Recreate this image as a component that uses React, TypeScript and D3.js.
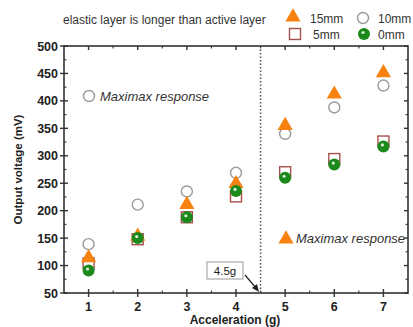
import { useEffect, useRef } from 'react';
import * as d3 from 'd3';

const ACCEL = [1, 2, 3, 4, 5, 6, 7];
const MM15 = [116, 155, 213, 251, 357, 414, 453];
const MM10 = [139, 211, 235, 269, 340, 388, 428];
const MM5 = [104, 148, 188, 226, 270, 294, 326];
const MM0 = [91, 150, 188, 236, 260, 284, 317];
const Y_TICKS = [50, 100, 150, 200, 250, 300, 350, 400, 450, 500];

const W = 413;
const H = 327;
const M = { left: 64, right: 5, top: 46, bottom: 34 };
const ORANGE = '#f7820f';
const GREY = '#9a9a9a';
const BROWN = '#a5524f';
const GREEN = '#1b8a1b';
const FONT = 'Arial, "Liberation Sans", sans-serif';

export default function App() {
  const svgRef = useRef<SVGSVGElement>(null);

  useEffect(() => {
    if (!svgRef.current) return;
    const svg = d3.select(svgRef.current);
    svg.selectAll('*').remove();

    const x = d3.scaleLinear().domain([0.5, 7.5]).range([M.left, W - M.right]);
    const y = d3.scaleLinear().domain([50, 500]).range([H - M.bottom, M.top]);
    const x0 = M.left, x1 = W - M.right, y0 = H - M.bottom, y1 = M.top;

    // ── Frame ─────────────────────────────────────────
    svg.append('rect')
      .attr('x', x0).attr('y', y1).attr('width', x1 - x0).attr('height', y0 - y1)
      .attr('fill', 'none').attr('stroke', '#333').attr('stroke-width', 1.6);

    const minorY = d3.range(75, 500, 50);
    const minorX = d3.range(1.5, 7.5, 1);
    const tk = (x1_: number, y1_: number, x2_: number, y2_: number, w = 1.4) =>
      svg.append('line').attr('x1', x1_).attr('y1', y1_).attr('x2', x2_).attr('y2', y2_)
        .attr('stroke', '#333').attr('stroke-width', w);

    Y_TICKS.forEach(v => {
      tk(x0 - 4, y(v), x0 + 4, y(v));
      tk(x1 - 4, y(v), x1, y(v));
    });
    minorY.forEach(v => {
      tk(x0, y(v), x0 + 2.5, y(v), 1.1);
      tk(x1 - 2.5, y(v), x1, y(v), 1.1);
    });
    ACCEL.forEach(v => {
      tk(x(v), y0 - 4, x(v), y0 + 4);
      tk(x(v), y1, x(v), y1 + 4);
    });
    minorX.forEach(v => {
      tk(x(v), y0 - 2.5, x(v), y0, 1.1);
      tk(x(v), y1, x(v), y1 + 2.5, 1.1);
    });

    // tick labels
    svg.append('g').selectAll('text').data(Y_TICKS).join('text')
      .attr('x', x0 - 6).attr('y', d => y(d) + 4.5)
      .attr('text-anchor', 'end').attr('font-size', 12.5).attr('font-weight', 'bold')
      .attr('font-family', FONT).attr('fill', '#222').text(d => d);
    svg.append('g').selectAll('text').data(ACCEL).join('text')
      .attr('x', d => x(d)).attr('y', y0 + 18)
      .attr('text-anchor', 'middle').attr('font-size', 12.5).attr('font-weight', 'bold')
      .attr('font-family', FONT).attr('fill', '#222').text(d => d);

    svg.append('text')
      .attr('x', (x0 + x1) / 2 - 1).attr('y', H - 3)
      .attr('text-anchor', 'middle').attr('font-size', 12).attr('font-weight', 'bold')
      .attr('font-family', FONT).attr('fill', '#222').text('Acceleration (g)');
    svg.append('text')
      .attr('transform', `translate(22, ${(y0 + y1) / 2}) rotate(-90)`)
      .attr('text-anchor', 'middle').attr('font-size', 11.5).attr('font-weight', 'bold')
      .attr('font-family', FONT).attr('fill', '#222').text('Output voltage (mV)');

    // ── Dotted threshold ──────────────────────────────
    svg.append('line')
      .attr('x1', x(4.5)).attr('x2', x(4.5)).attr('y1', y1).attr('y2', y0)
      .attr('stroke', '#555').attr('stroke-width', 1.5).attr('stroke-dasharray', '1.5,2');

    // ── Markers ───────────────────────────────────────
    const tri = d3.symbol().type(d3.symbolTriangle).size(100);
    const drawTri = (cx: number, cy: number) =>
      svg.append('path').attr('d', tri()!).attr('transform', `translate(${cx},${cy + 1})`).attr('fill', ORANGE);
    const drawCircle = (cx: number, cy: number) =>
      svg.append('circle').attr('cx', cx).attr('cy', cy).attr('r', 5.5)
        .attr('fill', '#fff').attr('stroke', GREY).attr('stroke-width', 1.4);
    const drawSquare = (cx: number, cy: number) =>
      svg.append('rect').attr('x', cx - 5.5).attr('y', cy - 5.5).attr('width', 11).attr('height', 11)
        .attr('fill', '#fff').attr('stroke', BROWN).attr('stroke-width', 1.4);
    const drawGreen = (cx: number, cy: number) => {
      svg.append('circle').attr('cx', cx).attr('cy', cy).attr('r', 6).attr('fill', GREEN);
      svg.append('circle').attr('cx', cx - 1).attr('cy', cy - 1.5).attr('r', 1.6).attr('fill', '#d8f0d8');
    };

    ACCEL.forEach((a, i) => drawCircle(x(a), y(MM10[i])));
    ACCEL.forEach((a, i) => drawSquare(x(a), y(MM5[i])));
    ACCEL.forEach((a, i) => drawTri(x(a), y(MM15[i])));
    ACCEL.forEach((a, i) => drawGreen(x(a), y(MM0[i])));

    // ── Annotations ───────────────────────────────────
    drawCircle(89, 96);
    svg.append('text').attr('x', 100).attr('y', 100.5)
      .attr('font-size', 13).attr('font-style', 'italic').attr('font-family', FONT)
      .attr('fill', '#333').text('Maximax response');
    drawTri(286, 238);
    svg.append('text').attr('x', 296).attr('y', 243)
      .attr('font-size', 13).attr('font-style', 'italic').attr('font-family', FONT)
      .attr('fill', '#333').text('Maximax response');

    svg.append('rect').attr('x', 207).attr('y', 262).attr('width', 36).attr('height', 17)
      .attr('fill', '#fff').attr('stroke', '#999').attr('stroke-width', 1);
    svg.append('text').attr('x', 225).attr('y', 275).attr('text-anchor', 'middle')
      .attr('font-size', 11.5).attr('font-family', FONT).attr('fill', '#222').text('4.5g');
    svg.append('line').attr('x1', 245).attr('y1', 275).attr('x2', 256).attr('y2', 288)
      .attr('stroke', '#222').attr('stroke-width', 1.2);
    svg.append('path').attr('d', 'M259,292 L252,288 L257,284 Z').attr('fill', '#222');

    // ── Legend ────────────────────────────────────────
    svg.append('text').attr('x', 63).attr('y', 24)
      .attr('font-size', 12).attr('font-family', FONT).attr('fill', '#333')
      .text('elastic layer is longer than active layer');
    drawTri(293, 16);
    drawCircle(363, 18);
    drawSquare(295, 34);
    drawGreen(364, 34);
    const leg = [['15mm', 310, 23], ['10mm', 378, 23], ['5mm', 313, 39], ['0mm', 378, 39]] as const;
    leg.forEach(([t, lx, ly]) => {
      svg.append('text').attr('x', lx).attr('y', ly).attr('font-size', 12)
        .attr('font-family', FONT).attr('fill', '#333').text(t);
    });
  }, []);

  return <svg ref={svgRef} width={W} height={H} style={{ position: 'absolute', left: 0, top: 0, background: '#fff' }} />;
}
